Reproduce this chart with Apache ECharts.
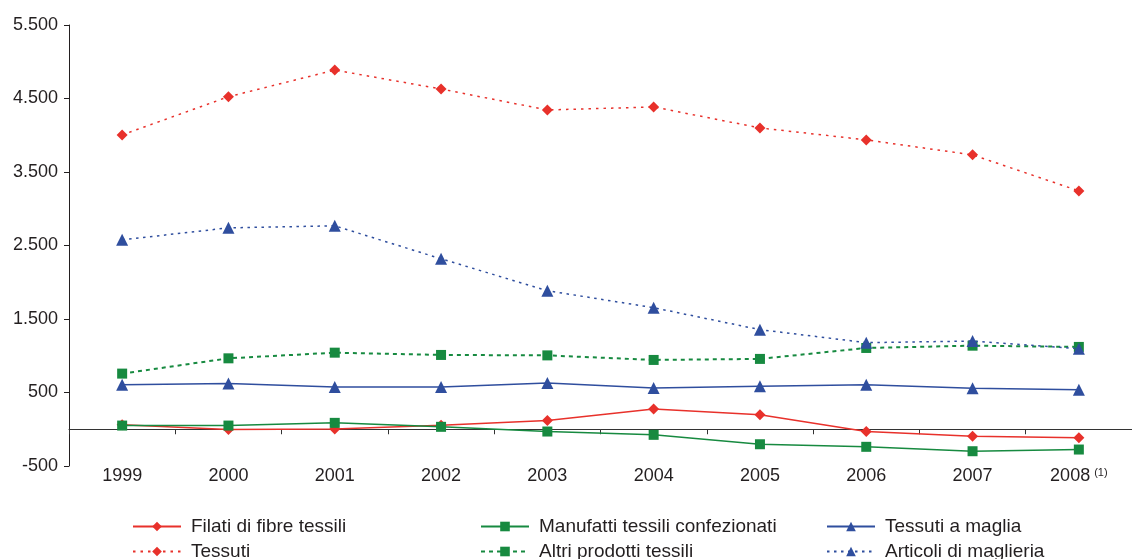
<!DOCTYPE html>
<html>
<head>
<meta charset="utf-8">
<script src="https://cdn.jsdelivr.net/npm/echarts@6/dist/echarts.min.js"></script>
<style>html,body{margin:0;padding:0;background:#fff}#c{width:1132px;height:559px}</style>
</head>
<body>
<div id="c"></div>
<script>
const years = ['1999','2000','2001','2002','2003','2004','2005','2006','2007','2008'];
const yTicks = [-500, 500, 1500, 2500, 3500, 4500, 5500];
const names = ['Filati di fibre tessili','Manufatti tessili confezionati','Tessuti a maglia','Tessuti','Altri prodotti tessili','Articoli di maglieria'];
const filati = [60, -5, 5, 54, 118, 277, 196, -31, -95, -117];
const manufatti = [50, 50, 87, 33, -31, -76, -204, -239, -299, -276];
const tessutiMaglia = [607, 621, 576, 576, 630, 562, 584, 607, 557, 539];
const tessuti = [4005, 4524, 4887, 4629, 4344, 4385, 4100, 3937, 3733, 3243];
const altri = [757, 965, 1042, 1011, 1005, 943, 957, 1106, 1137, 1120];
const articoli = [2577, 2740, 2768, 2319, 1885, 1654, 1355, 1178, 1200, 1096];

const RED = '#e8312b', GREEN = '#178a40', BLUE = '#2f4e9e';
const FONT = 'Arial, "Liberation Sans", sans-serif';
const TXT = '#231f20';

function fmt(v){
  const s = String(Math.abs(v)).replace(/\B(?=(\d{3})+(?!\d))/g, '.');
  return (v < 0 ? '-' : '') + s;
}

const seriesDefs = [
  {data: filati, color: RED, symbol: 'diamond', size: 11, type: 'solid', w: 1.5},
  {data: manufatti, color: GREEN, symbol: 'rect', size: 10, type: 'solid', w: 1.5},
  {data: tessutiMaglia, color: BLUE, symbol: 'triangle', size: 12, type: 'solid', w: 1.5},
  {data: tessuti, color: RED, symbol: 'diamond', size: 11, type: [2.5, 5], w: 1.5},
  {data: altri, color: GREEN, symbol: 'rect', size: 10, type: [4, 4], w: 2},
  {data: articoli, color: BLUE, symbol: 'triangle', size: 12, type: [2.5, 4.5], w: 1.5}
];

const legendPos = [
  {left: 132, top: 517}, {left: 480, top: 517}, {left: 826, top: 517},
  {left: 132, top: 542}, {left: 480, top: 542}, {left: 826, top: 542}
];

const chart = echarts.init(document.getElementById('c'), null, {renderer: 'canvas'});
chart.setOption({
  animation: false,
  backgroundColor: '#fff',
  grid: {left: 69, top: 25, right: -10, bottom: 93, containLabel: false},
  legend: legendPos.map((p, i) => ({
    data: [names[i]], left: p.left, top: p.top, orient: 'horizontal',
    itemWidth: 48, itemHeight: 12, padding: 0, selectedMode: false,
    textStyle: {fontFamily: FONT, fontSize: 19, color: TXT, padding: [0, 0, 0, 5], lineHeight: 19}
  })),
  xAxis: [
    {
      type: 'category', data: years, boundaryGap: true, position: 'bottom',
      axisLine: {show: true, onZero: true, lineStyle: {color: '#333', width: 1}},
      axisTick: {show: true, length: 5, inside: false, interval: 0, lineStyle: {color: '#333'}},
      axisLabel: {show: false}, splitLine: {show: false}
    },
    {
      type: 'category', data: years, boundaryGap: true, position: 'bottom',
      axisLine: {show: false, onZero: false}, axisTick: {show: false}, splitLine: {show: false},
      axisLabel: {
        show: true, interval: 0, margin: 1, fontFamily: FONT, fontSize: 18, color: TXT,
        formatter: v => v === '2008' ? '{m|2008}{sup|(1)}' : v,
        rich: {
          m: {fontSize: 18, fontFamily: FONT, color: TXT, lineHeight: 18},
          sup: {fontSize: 11, fontFamily: FONT, color: TXT, verticalAlign: 'top', lineHeight: 12, padding: [0, 0, 0, 4]}
        }
      }
    }
  ],
  yAxis: {
    type: 'value', min: yTicks[0], max: yTicks[yTicks.length - 1], interval: 1000,
    axisLine: {show: true, onZero: false, lineStyle: {color: '#231f20', width: 1}},
    axisTick: {show: true, length: 5, lineStyle: {color: '#231f20'}},
    axisLabel: {fontFamily: FONT, fontSize: 18, color: TXT, margin: 11, formatter: fmt},
    splitLine: {show: false}
  },
  series: seriesDefs.map((d, i) => ({
    name: names[i], type: 'line', xAxisIndex: 0, data: d.data,
    symbol: d.symbol, symbolSize: d.size, showSymbol: true,
    itemStyle: {color: d.color},
    lineStyle: {color: d.color, width: d.w, type: d.type},
    z: 2 + i
  }))
});
</script>
</body>
</html>
